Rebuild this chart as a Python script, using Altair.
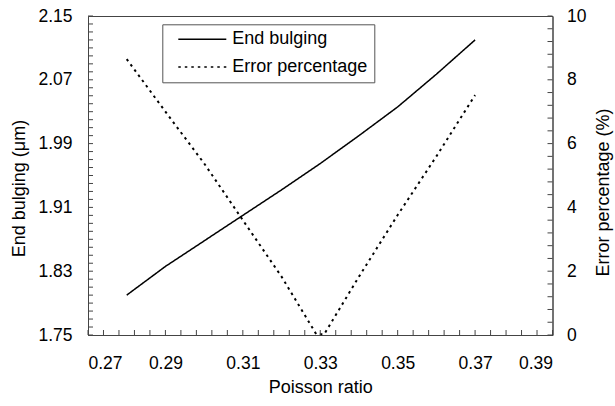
import altair as alt
import pandas as pd
import numpy as np

# ---- data ----
poisson = [0.28, 0.29, 0.30, 0.31, 0.32, 0.33, 0.34, 0.35, 0.36, 0.37]
bulging = [1.800, 1.836, 1.868, 1.900, 1.932, 1.965, 2.000, 2.036, 2.077, 2.120]

err_poisson = [0.28, 0.29, 0.30, 0.31, 0.32, 0.329, 0.331, 0.34, 0.35, 0.36, 0.37]
err_pct = [8.65, 7.00, 5.38, 3.60, 1.83, 0.02, 0.02, 1.83, 3.76, 5.60, 7.52]

series_names = ["End bulging", "Error percentage"]

# ---- axis tick values ----
x_major = [0.27, 0.29, 0.31, 0.33, 0.35, 0.37, 0.39]
x_minor = [round(float(v), 3) for v in np.arange(0.27, 0.3901, 0.004)]
yb_major = [1.75, 1.83, 1.91, 1.99, 2.07, 2.15]
yb_minor = [round(float(v), 2) for v in np.arange(1.75, 2.1501, 0.01)]
ye_major = [0, 2, 4, 6, 8, 10]
ye_minor = [round(float(v), 1) for v in np.arange(0, 10.01, 0.4)]

df_b = pd.DataFrame({"nu": poisson, "val": bulging, "series": series_names[0]})
df_e = pd.DataFrame({"nu": err_poisson, "val": err_pct, "series": series_names[1]})
df_xt = pd.DataFrame({"t": x_minor})
df_ybt = pd.DataFrame({"t": yb_minor})
df_yet = pd.DataFrame({"t": ye_minor})

FONT = "Liberation Sans"
AX = "#444444"
TICK = 5

xscale = alt.Scale(domain=[0.27, 0.39], nice=False, zero=False)
yb_scale = alt.Scale(domain=[1.75, 2.15], nice=False, zero=False)
ye_scale = alt.Scale(domain=[0, 10], nice=False, zero=False)
dash_scale = alt.Scale(domain=series_names, range=[[1, 0], [2.5, 4]])

legend = alt.Legend(
    title=None, orient="none", legendX=74.3, legendY=8.3, direction="vertical",
    symbolType="stroke", symbolSize=2304, symbolStrokeWidth=1.5,
    symbolStrokeColor="black", clipHeight=18, rowPadding=9.7, padding=6,
    symbolOffset=9, labelOffset=5, labelFontSize=18, labelFont=FONT,
    labelColor="black", strokeColor="#555555", fillColor="white",
    labelExpr="datum.label + '\u00a0\u00a0\u00a0\u00a0'",
)

a = alt.Chart(df_b).mark_line(color="black", strokeWidth=1.5).encode(
    x=alt.X("nu:Q", scale=xscale, axis=alt.Axis(
        values=x_major, format=".2f", ticks=False, tickSize=0, grid=False,
        orient="bottom", title="Poisson ratio", labelPadding=19, titleY=57.5,
        titleBaseline="alphabetic")),
    y=alt.Y("val:Q", scale=yb_scale, axis=alt.Axis(
        values=yb_major, format=".2f", ticks=False, tickSize=0, grid=False,
        orient="left", title="End bulging (μm)", labelPadding=16, titleX=-63.5,
        titleY=172, titleAngle=270, titleBaseline="alphabetic")),
    strokeDash=alt.StrokeDash("series:N", scale=dash_scale, legend=legend),
)

b = alt.Chart(df_e).mark_line(color="black", strokeWidth=2).encode(
    x=alt.X("nu:Q", scale=xscale, axis=None),
    y=alt.Y("val:Q", scale=ye_scale, axis=alt.Axis(
        values=ye_major, format="d", ticks=False, tickSize=0, grid=False,
        orient="right", title="Error percentage (%)", labelPadding=14,
        titleX=55.8, titleY=176, titleAngle=270, titleBaseline="alphabetic")),
    strokeDash=alt.StrokeDash("series:N", scale=dash_scale, legend=legend),
)

# inward-pointing tick marks on the frame, positioned through the scales
ticks_bottom = alt.Chart(df_xt).mark_rule(
    color=AX, strokeWidth=1, y2Offset=-TICK
).encode(
    x=alt.X("t:Q", scale=xscale, axis=None),
    y=alt.value("height"),
    y2=alt.value("height"),
)

ticks_left = alt.Chart(df_ybt).mark_rule(
    color=AX, strokeWidth=1, x2Offset=TICK
).encode(
    x=alt.value(0),
    x2=alt.value(0),
    y=alt.Y("t:Q", scale=yb_scale, axis=None),
)

ticks_right = alt.Chart(df_yet).mark_rule(
    color=AX, strokeWidth=1, x2Offset=-TICK
).encode(
    x=alt.value("width"),
    x2=alt.value("width"),
    y=alt.Y("t:Q", scale=ye_scale, axis=None),
)

chart = alt.layer(a, b, ticks_bottom, ticks_left, ticks_right).resolve_scale(
    y="independent"
).resolve_axis(
    x="independent", y="independent"
).properties(
    width=464.5, height=319,
    autosize=alt.AutoSizeParams(type="none"),
    padding={"left": 88, "top": 16, "right": 62.5, "bottom": 71},
).configure(
    background="white"
).configure_view(
    stroke=AX, strokeWidth=1
).configure_axis(
    labelFont=FONT, labelFontSize=17.5, labelColor="black",
    titleFont=FONT, titleFontSize=18, titleFontWeight="normal", titleColor="black",
    domainColor=AX, tickColor=AX, domainWidth=1, ticks=False,
)

chart.save("out.html", embed_options={"renderer": "svg", "actions": False})
